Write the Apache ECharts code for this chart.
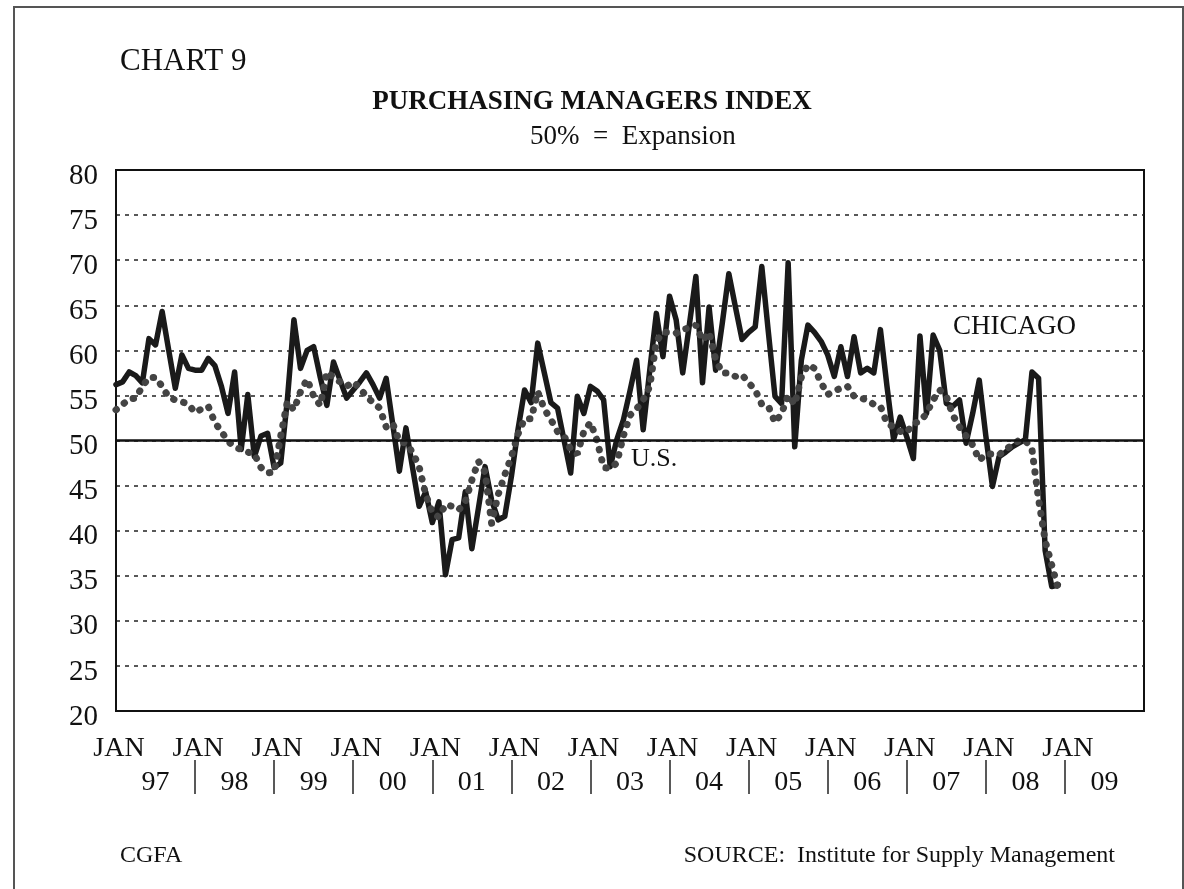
<!DOCTYPE html>
<html>
<head>
<meta charset="utf-8">
<title>Purchasing Managers Index</title>
<script src="https://cdn.jsdelivr.net/npm/echarts@6/dist/echarts.min.js"></script>
<style>
    html, body { margin: 0; padding: 0; background: #fff; }
    #container { position: absolute; left: 0; top: 0; width: 1184px; height: 889px; }
    #frame { position: absolute; left: 13px; top: 6px; width: 1167px; height: 900px; border: 2px solid #555; pointer-events: none; }
</style>
</head>
<body>
<div id="container"></div>
<div id="frame"></div>
<script>
    var FONT = "'Liberation Serif', 'Times New Roman', serif";

    // year labels under the x axis (one per year band), Jan 97 .. Jan 09
    var yearLabels = ['97', '98', '99', '00', '01', '02', '03', '04', '05', '06', '07', '08', '09'];

    // monthly values, Jan 1997 .. Dec 2008
    var chicago = [
        56.2, 56.5, 57.6, 57.2, 56.4, 61.3, 60.6, 64.3, 60.0, 55.8, 59.5, 58.0,
        57.8, 57.8, 59.1, 58.3, 56.0, 53.0, 57.6, 49.0, 55.1, 48.2, 50.5, 50.8,
        47.0, 47.5, 54.5, 63.4, 58.0, 60.0, 60.4, 57.0, 53.9, 58.7, 56.7, 54.7,
        55.6, 56.5, 57.5, 56.2, 54.7, 56.9, 51.8, 46.6, 51.4, 47.0, 42.7, 44.3,
        40.9, 43.2, 35.1, 39.0, 39.2, 44.3, 38.0, 42.5, 47.1, 43.4, 41.2, 41.6,
        46.0, 51.2, 55.6, 54.2, 60.8, 57.5, 54.2, 53.6, 50.0, 46.4, 54.9, 53.0,
        56.0, 55.5, 54.5, 47.1, 50.1, 52.3, 55.5, 58.9, 51.2, 57.8, 64.1, 59.3,
        66.0, 63.4, 57.5, 62.8, 68.2, 56.4, 64.8, 57.8, 63.0, 68.5, 64.8, 61.2,
        62.0, 62.6, 69.3, 62.0, 54.9, 54.1, 69.7, 49.3, 58.9, 62.8, 62.0, 61.0,
        59.5, 57.1, 60.4, 57.1, 61.5, 57.5, 58.0, 57.5, 62.3, 56.0, 50.1, 52.6,
        50.4, 48.0, 61.6, 53.0, 61.7, 60.0, 54.1, 53.8, 54.5, 49.7, 53.0, 56.7,
        50.5, 44.9, 48.2, 48.7, 49.3, 49.7, 50.1, 57.6, 56.9, 37.8, 33.8, 34.0
    ];

    var us = [
        53.4, 54.0, 54.6, 54.7, 56.0, 57.0, 57.0, 56.0, 54.8, 54.5, 54.3, 54.0,
        53.1, 53.5, 53.8, 52.0, 51.0, 49.9, 49.3, 49.0, 48.7, 48.5, 47.0, 46.4,
        46.5, 50.5, 54.3, 53.4, 55.4, 56.8, 54.9, 53.9, 57.6, 57.0, 56.5, 56.0,
        56.5, 55.8, 54.9, 54.2, 53.6, 51.5, 51.9, 49.9, 49.7, 48.7, 47.1, 44.0,
        42.0, 41.5, 42.9, 42.7, 42.3, 43.2, 45.6, 47.7, 46.5, 40.8, 44.0, 46.2,
        48.2, 50.7, 52.4, 52.4, 55.4, 53.5, 52.3, 51.0, 50.5, 49.0, 48.5, 51.0,
        52.0, 50.0, 47.0, 46.9, 47.5, 50.5, 52.8, 53.5, 54.5, 56.0, 61.0, 62.0,
        62.0, 61.9, 62.3, 62.5, 62.8, 61.1, 62.0, 59.0, 57.5, 57.5, 57.1, 57.3,
        56.4, 55.6, 54.0, 53.8, 52.0, 53.0, 55.0, 54.0, 57.0, 58.4, 58.0, 56.4,
        55.1, 55.5, 55.8, 56.0, 54.9, 54.7, 54.5, 54.0, 53.8, 51.9, 51.5, 51.0,
        50.9, 51.9, 52.1, 53.0, 54.5, 55.6, 54.9, 52.8, 51.5, 50.5, 49.5, 47.8,
        48.5, 48.5, 48.4, 49.0, 49.5, 50.0, 50.0, 49.0, 43.5, 38.9, 36.2, 33.5
    ];

    // y axis
    var yMin = 20, yMax = 80, yStep = 5;
    var expansionLevel = 50;

    function toPairs(arr) {
        return arr.map(function (v, i) { return [i, v]; });
    }

    var dom = document.getElementById("container");
    var myChart = echarts.init(dom, null, {renderer: 'canvas'});

    var txt = function (size, weight) {
        return {fontFamily: FONT, fontSize: size, fontWeight: weight || 'normal', color: '#111'};
    };

    var option = {
        backgroundColor: '#fff',
        animation: false,
        title: [
            {text: 'CHART 9', left: 120, top: 46, padding: 0, textStyle: txt(31)},
            {text: 'PURCHASING MANAGERS INDEX', left: 'center', top: 89, padding: 0, textStyle: txt(27, 'bold')},
            {text: '50%  =  Expansion', left: 530, top: 123, padding: 0, textStyle: txt(27)},
            {text: 'CHICAGO', left: 953, top: 313, padding: 0, textStyle: txt(27)},
            {text: 'U.S.', left: 631, top: 446, padding: 0, textStyle: txt(26)},
            {text: 'CGFA', left: 120, top: 844, padding: 0, textStyle: txt(24)},
            {text: 'SOURCE:  Institute for Supply Management', right: 69, top: 844, padding: 0, textStyle: txt(24)}
        ],
        grid: [
            {left: 116, right: 40, top: 170, bottom: 178, show: true, borderColor: '#111', borderWidth: 2, outerBoundsMode: 'none'},
            {left: 116, right: 40, top: 760, height: 34, show: false, outerBoundsMode: 'none'}
        ],
        xAxis: [
            {
                type: 'value', gridIndex: 0, min: 0, max: 156, interval: 12,
                axisLine: {show: true, lineStyle: {color: '#111', width: 2}},
                axisTick: {show: false},
                splitLine: {show: false},
                axisLabel: {
                    show: true, margin: 24, showMaxLabel: false,
                    fontFamily: FONT, fontSize: 28, color: '#111', padding: [0, 0, 0, 6],
                    formatter: function () { return 'JAN'; }
                }
            },
            {
                type: 'category', gridIndex: 1, data: yearLabels, boundaryGap: true,
                axisLine: {show: false},
                axisTick: {show: false},
                splitLine: {show: true, showMinLine: false, showMaxLine: false, lineStyle: {color: '#222', width: 1.5}},
                axisLabel: {show: true, inside: true, margin: -3, fontFamily: FONT, fontSize: 28, color: '#111'}
            }
        ],
        yAxis: [
            {
                type: 'value', gridIndex: 0, min: yMin, max: yMax, interval: yStep,
                axisLine: {show: true, lineStyle: {color: '#111', width: 2}},
                axisTick: {show: false},
                splitLine: {
                    show: true, showMinLine: false, showMaxLine: false,
                    lineStyle: {color: '#222', width: 1.5, type: [4, 5]}
                },
                axisLabel: {
                    margin: 18, color: '#111',
                    formatter: '{n|{value}}',
                    rich: {n: {fontFamily: FONT, fontSize: 29, color: '#111', padding: [12, 0, 0, 0]}}
                }
            },
            {type: 'value', gridIndex: 1, show: false, min: 0, max: 1}
        ],
        series: [
            {
                name: 'CHICAGO',
                type: 'line',
                xAxisIndex: 0, yAxisIndex: 0,
                data: toPairs(chicago),
                showSymbol: false,
                lineStyle: {color: '#1a1a1a', width: 5.5, join: 'round', cap: 'round'},
                markLine: {
                    silent: true, symbol: 'none', label: {show: false},
                    lineStyle: {color: '#111', width: 2.5, type: 'solid'},
                    data: [{yAxis: expansionLevel}]
                },
                z: 2
            },
            {
                name: 'U.S.',
                type: 'line',
                xAxisIndex: 0, yAxisIndex: 0,
                data: toPairs(us),
                showSymbol: false,
                lineStyle: {color: '#444', width: 7, type: [0.5, 10], cap: 'round'},
                z: 3
            }
        ]
    };

    if (option && typeof option === "object") {
        myChart.setOption(option, true);
    }
</script>
</body>
</html>
